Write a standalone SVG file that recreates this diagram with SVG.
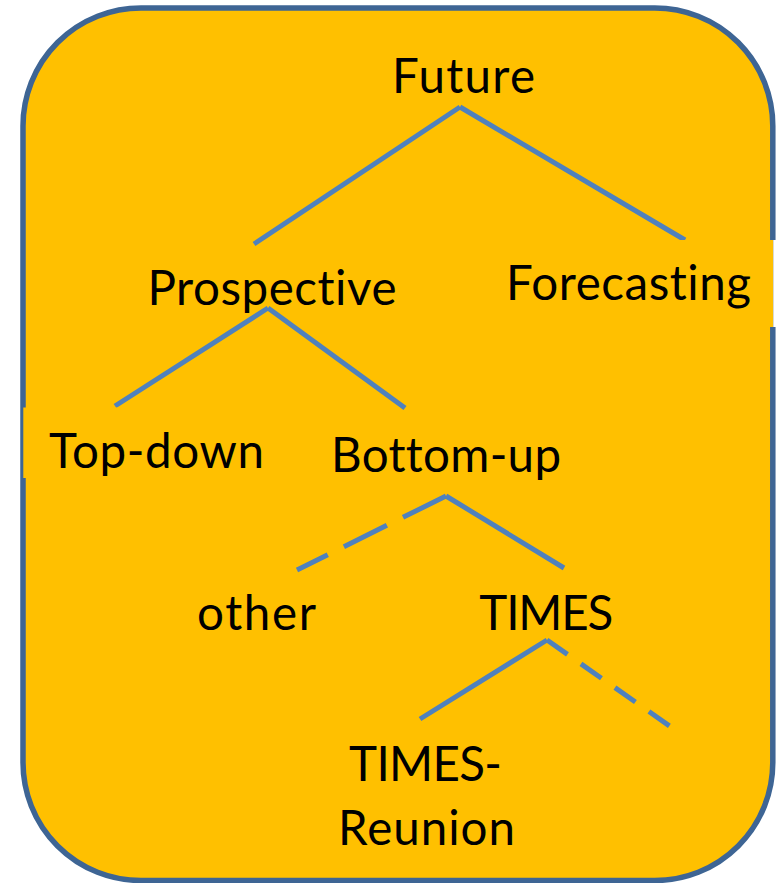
<svg xmlns="http://www.w3.org/2000/svg" width="781" height="883" viewBox="0 0 781 883">
  <style>
    .panel { fill: #FFC000; stroke: #3E6594; stroke-width: 5.5; }
    .box { fill: #FFC000; stroke: none; }
    .gap { fill: #FFFFFF; stroke: none; }
    .edge { stroke: #4F81BD; stroke-width: 5; fill: none; stroke-linecap: butt; }
    .dash-long { stroke-dasharray: 48 18; }
    .dash-short { stroke-dasharray: 25 16.5; }
    .label { font-family: "Lato", "Carlito", "Liberation Sans", sans-serif; font-size: 47.5px; fill: #000000; text-anchor: middle; font-variant-ligatures: none; font-feature-settings: "liga" 0, "dlig" 0; }
  </style>

  <!-- background panel -->
  <rect class="panel" x="23" y="8" width="749.8" height="872.5" rx="118" ry="118"/>

  <!-- tree edges -->
  <g id="connectors">
    <line class="edge" x1="460" y1="107" x2="254" y2="244"/>
    <line class="edge" x1="460" y1="107" x2="685" y2="240"/>
    <line class="edge" x1="268" y1="308" x2="115" y2="406"/>
    <line class="edge" x1="268" y1="308" x2="405" y2="408"/>
    <line class="edge dash-long" x1="446" y1="496" x2="297" y2="570"/>
    <line class="edge" x1="446" y1="496" x2="564" y2="568"/>
    <line class="edge" x1="547" y1="640" x2="420" y2="719"/>
    <line class="edge dash-short" x1="547" y1="640" x2="671" y2="727"/>
  </g>

  <g id="node-future">
    <text class="label" x="463.5" y="93" textLength="143">Future</text>
  </g>
  <g id="node-prospective">
    <text class="label" x="272" y="305" textLength="249">Prospective</text>
  </g>
  <g id="node-forecasting">
    <rect class="box" x="495" y="240" width="278.3" height="87"/>
    <rect class="gap" x="773.3" y="240" width="7.7" height="87"/>
    <text class="label" x="628.5" y="300" textLength="245">Forecasting</text>
  </g>
  <g id="node-topdown">
    <rect class="box" x="23.3" y="407.5" width="276" height="70.5"/>
    <text class="label" x="156.5" y="468" textLength="215">Top-down</text>
  </g>
  <g id="node-bottomup">
    <text class="label" x="446" y="472" textLength="230">Bottom-up</text>
  </g>
  <g id="node-other">
    <text class="label" x="256.5" y="630" textLength="119">other</text>
  </g>
  <g id="node-times">
    <text class="label" x="546.3" y="630" textLength="134">TIMES</text>
  </g>
  <g id="node-times-reunion">
    <text class="label" x="425.5" y="781" textLength="153">TIMES-</text>
    <text class="label" x="426.5" y="845" textLength="177">Reunion</text>
  </g>
</svg>
